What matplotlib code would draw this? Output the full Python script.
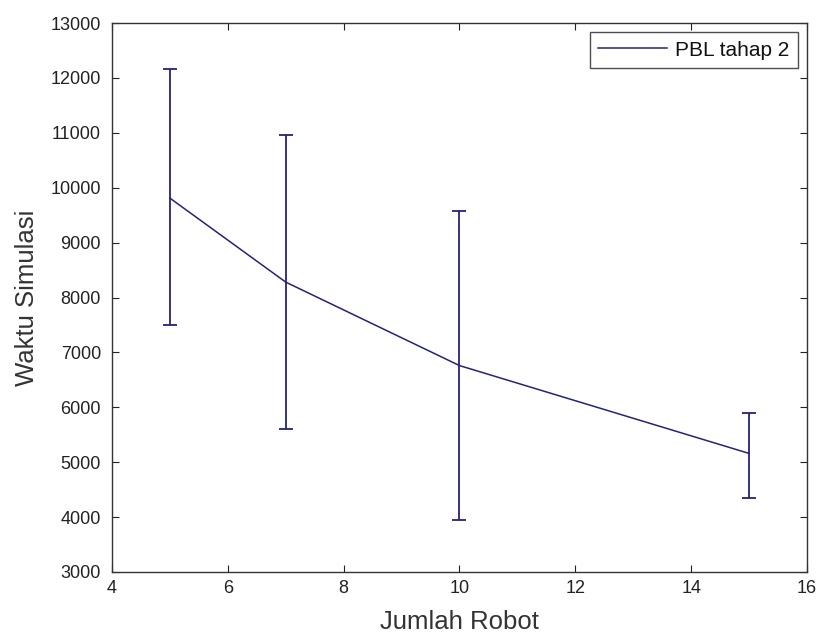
import numpy as np
from matplotlib import pyplot as plt

plt.rcParams['font.family'] = ['Liberation Sans', 'DejaVu Sans']

# data
jumlah_robot = [5, 7, 10, 15]
waktu_mean = [9810, 8280, 6760, 5160]
waktu_low = [7500, 5600, 3950, 4340]
waktu_high = [12160, 10960, 9570, 5890]


def main():
    y = np.array(waktu_mean)
    err = [y - np.array(waktu_low), np.array(waktu_high) - y]
    color = "#23237a"
    text_color = "#333333"

    fig = plt.figure(figsize=(8.17, 6.33), dpi=100)
    ax = fig.add_axes([112 / 817, 61 / 633, 695 / 817, 549 / 633])

    ax.plot(jumlah_robot, y, color=color, linewidth=1.1, label="PBL tahap 2")
    ax.errorbar(jumlah_robot, y, yerr=err, fmt="none", ecolor=color,
                elinewidth=1.3, capsize=5, capthick=1.3)

    ax.set_xlim(4, 16)
    ax.set_ylim(3000, 13000)
    ax.set_xticks(range(4, 17, 2))
    ax.set_yticks(range(3000, 13001, 1000))
    ax.tick_params(direction="in", top=True, right=True, length=5,
                   labelsize=13, colors="#222222")
    ax.tick_params(axis="y", pad=8)
    ax.tick_params(axis="x", pad=6)
    for s in ax.spines.values():
        s.set_linewidth(1.0)
        s.set_color("#333333")

    ax.set_xlabel("Jumlah Robot", fontsize=18.5, color=text_color, labelpad=9)
    ax.set_ylabel("Waktu Simulasi", fontsize=18.5, color=text_color, labelpad=8)

    leg = ax.legend(loc="upper right", fancybox=False, edgecolor="#222222",
                    fontsize=15, handlelength=3.3, borderaxespad=0.45,
                    handletextpad=0.4, borderpad=0.4)
    leg.get_frame().set_linewidth(1.0)
    for t in leg.get_texts():
        t.set_color("#111111")

    fig.savefig("out.png", dpi=100)


if __name__ == "__main__":
    main()
